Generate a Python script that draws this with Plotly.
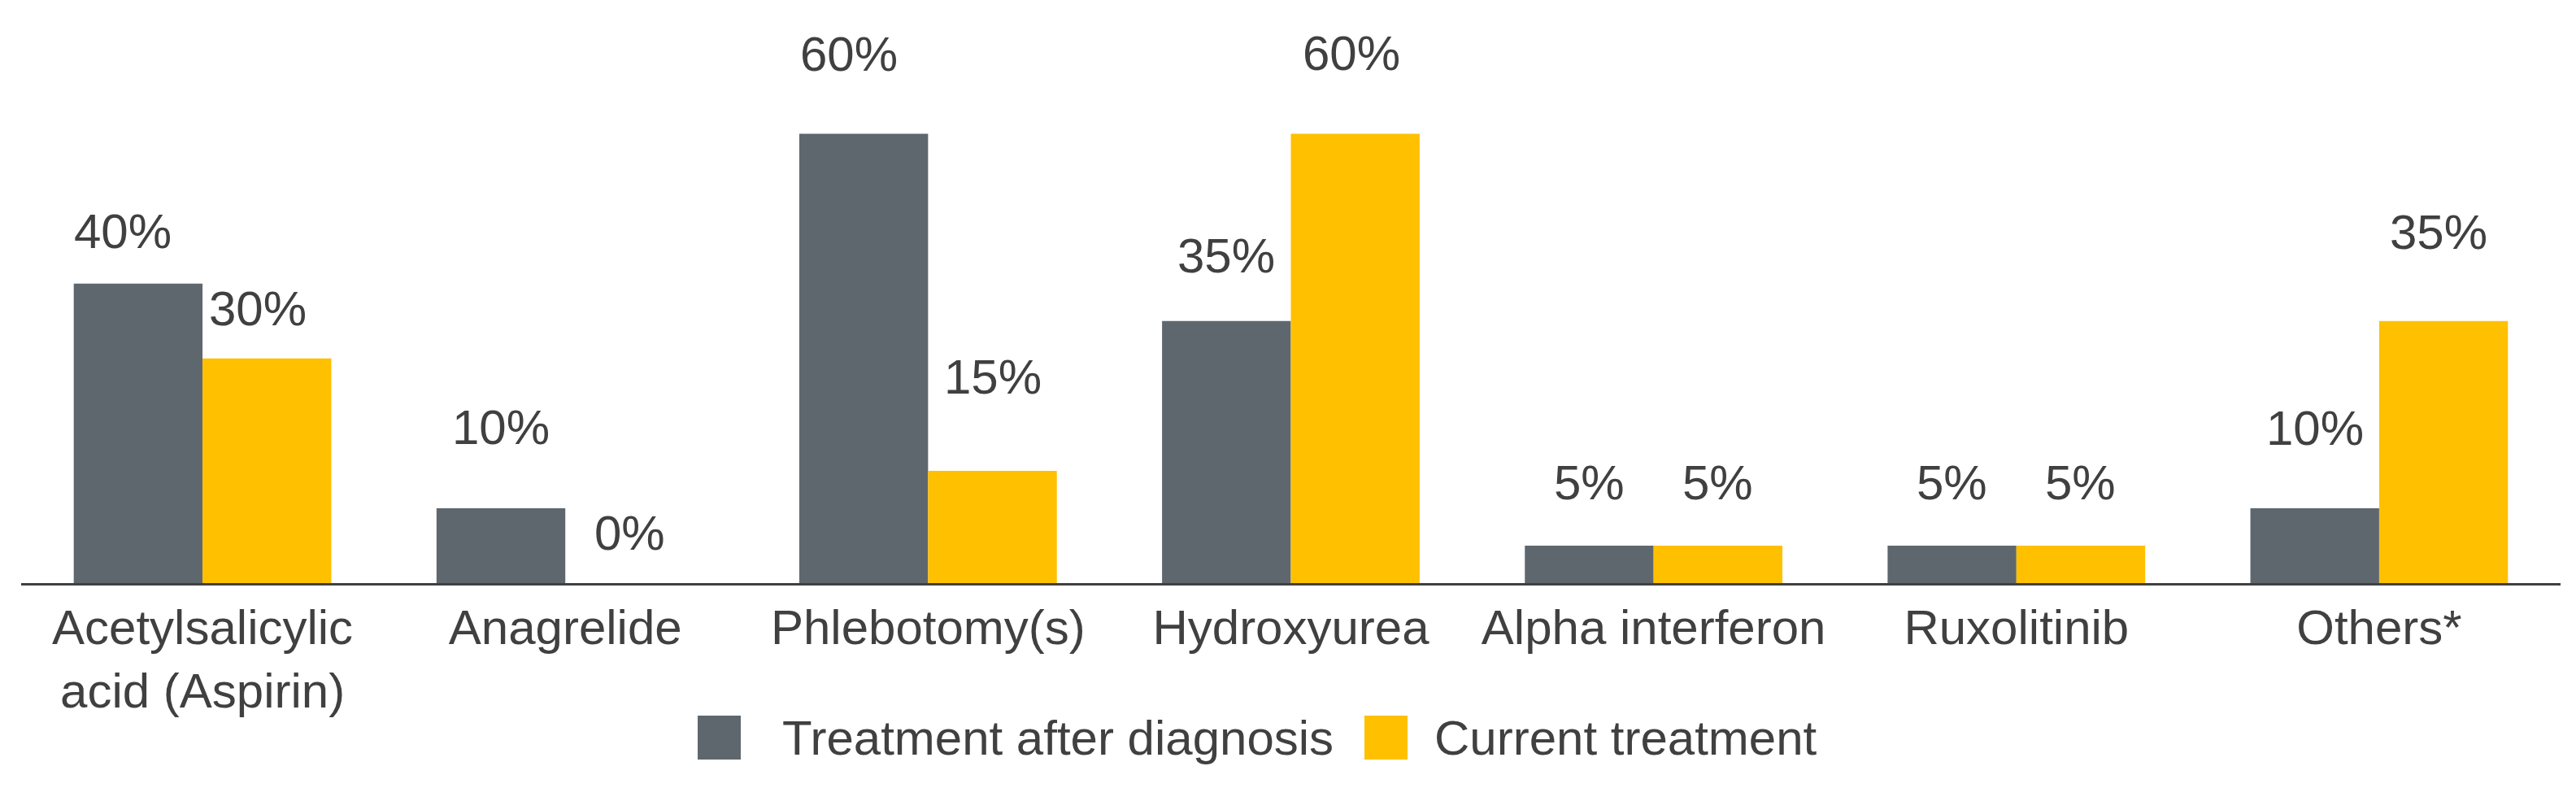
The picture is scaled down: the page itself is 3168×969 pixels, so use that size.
import plotly.graph_objects as go

# data
categories = ["Acetylsalicylic<br>acid (Aspirin)", "Anagrelide", "Phlebotomy(s)",
              "Hydroxyurea", "Alpha interferon", "Ruxolitinib", "Others*"]
after_diagnosis = [40, 10, 60, 35, 5, 5, 10]
current_treatment = [30, 0, 15, 60, 5, 5, 35]
series_names = ["Treatment after diagnosis", "Current treatment"]

# look
GREY = "#5f676e"
GOLD = "#ffc000"
INK = "#404040"
FONT = "Liberation Sans, Arial, sans-serif"
FS = 60

W, H = 3168, 969
M_L, M_R, M_T, M_B = 18, 27, 0, 260
BARGAP = 0.29
Y_MAX = 77

# the value labels sit at uneven heights in the source, so nudge them (px)
lift_after = [64, 99, 98, 80, 77, 77, 98]
lift_current = [61, 62, 115, 99, 77, 77, 109]
nudge_after = [-19, 0, -18, 0, 0, 0, 0]
nudge_current = [-11, 0, 0, -5, 0, 0, -6]

plot_w = W - M_L - M_R
plot_h = H - M_T - M_B
px_per_cat = plot_w / len(categories)
bar_off = (1 - BARGAP) / 4 * px_per_cat


def paper_x(p):
    return (p - M_L) / plot_w


def paper_y(p):
    return (H - M_B - p) / plot_h


fig = go.Figure()
fig.add_trace(go.Bar(x=categories, y=after_diagnosis, name=series_names[0],
                     marker=dict(color=GREY, line=dict(width=0)), showlegend=False))
fig.add_trace(go.Bar(x=categories, y=current_treatment, name=series_names[1],
                     marker=dict(color=GOLD, line=dict(width=0)), showlegend=False))

annotations = []
for i, cat in enumerate(categories):
    for vals, lifts, nudges, sign in [(after_diagnosis, lift_after, nudge_after, -1),
                                      (current_treatment, lift_current, nudge_current, 1)]:
        annotations.append(dict(
            x=cat, y=vals[i], xref="x", yref="y",
            text=f"{vals[i]}%", showarrow=False,
            xshift=sign * bar_off + nudges[i], yshift=lifts[i],
            xanchor="center", yanchor="middle",
            font=dict(family=FONT, size=FS, color=INK),
        ))

# legend drawn by hand so the swatches can be as big as in the source
shapes = []
for name, col, x0, tx in [(series_names[0], GREY, 850, 952),
                          (series_names[1], GOLD, 1670, 1754)]:
    shapes.append(dict(type="rect", xref="paper", yref="paper",
                       x0=paper_x(x0), x1=paper_x(x0 + 53),
                       y0=paper_y(926), y1=paper_y(872),
                       fillcolor=col, line=dict(width=0)))
    annotations.append(dict(x=paper_x(tx), y=paper_y(899), xref="paper", yref="paper",
                            text=name, showarrow=False, xanchor="left", yanchor="middle",
                            font=dict(family=FONT, size=FS, color=INK)))

fig.update_layout(
    width=W, height=H,
    margin=dict(l=M_L, r=M_R, t=M_T, b=M_B, pad=0),
    paper_bgcolor="white", plot_bgcolor="white",
    barmode="group", bargap=BARGAP, bargroupgap=0,
    font=dict(family=FONT, size=FS, color=INK),
    annotations=annotations, shapes=shapes,
    showlegend=False,
)
fig.update_xaxes(range=[-0.5, 6.5], showline=True, linecolor=INK, linewidth=3,
                 ticks="", showgrid=False, zeroline=False,
                 tickfont=dict(family=FONT, size=FS, color=INK))
fig.update_yaxes(range=[0, Y_MAX], visible=False, showgrid=False, zeroline=False)

fig.write_html("out.html")
